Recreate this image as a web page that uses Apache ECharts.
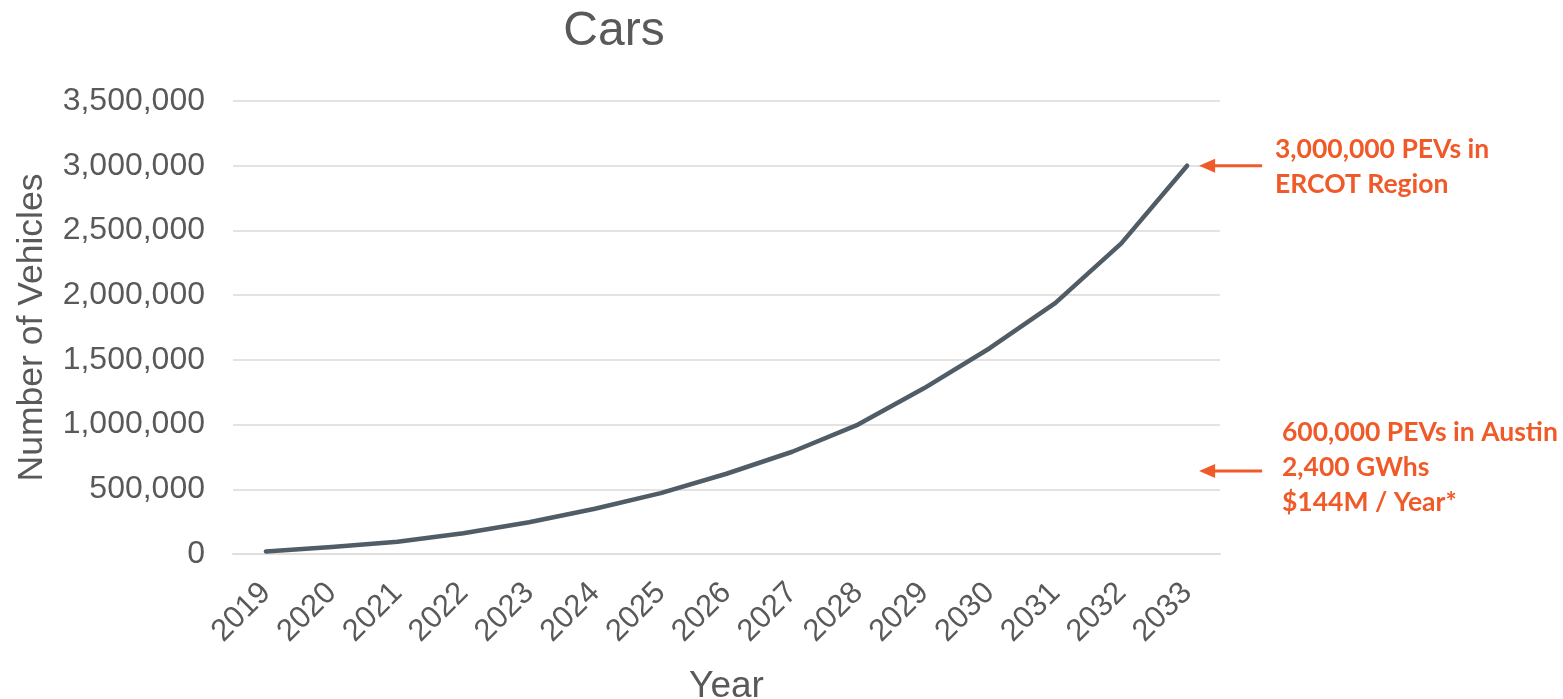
<!DOCTYPE html>
<html>
<head>
<meta charset="utf-8">
<script src="https://cdn.jsdelivr.net/npm/echarts@6/dist/echarts.min.js"></script>
<style>
  html, body { margin: 0; padding: 0; background: #fff; }
  #chart { width: 1563px; height: 699px; }
</style>
</head>
<body>
<div id="chart"></div>
<script>
// Projected number of plug-in electric vehicles (cars) per year
const years = ['2019', '2020', '2021', '2022', '2023', '2024', '2025', '2026',
               '2027', '2028', '2029', '2030', '2031', '2032', '2033'];
const vehicles = [20000, 55000, 95000, 160000, 245000, 350000, 470000, 620000,
                  790000, 1000000, 1280000, 1590000, 1940000, 2400000, 3000000];
const yTicks = [0, 500000, 1000000, 1500000, 2000000, 2500000, 3000000, 3500000];

const ercotNote = ['3,000,000 PEVs in', 'ERCOT Region'];
const austinNote = ['600,000 PEVs in Austin', '2,400 GWhs', '$144M / Year*'];

const grey = '#595959';
const orange = '#F05A28';

const chart = echarts.init(document.getElementById('chart'));

chart.setOption({
  animation: false,
  title: {
    text: 'Cars',
    left: 609,
    textAlign: 'center',
    top: 3,
    textStyle: { fontFamily: 'Liberation Sans', fontSize: 48, fontWeight: 'normal', color: grey }
  },
  grid: { left: 233, right: 343, top: 101, bottom: 145, containLabel: false, outerBoundsMode: 'none' },
  xAxis: {
    type: 'category',
    data: years,
    boundaryGap: true,
    name: 'Year',
    nameLocation: 'middle',
    nameGap: 114,
    nameTextStyle: { fontFamily: 'Liberation Sans', fontSize: 37, color: grey },
    axisLine: { show: true, lineStyle: { color: '#dedede', width: 2 } },
    axisTick: { show: false },
    axisLabel: {
      rotate: 45,
      margin: 34,
      interval: 0,
      fontFamily: 'Liberation Sans',
      fontSize: 31,
      color: grey
    }
  },
  yAxis: {
    type: 'value',
    min: yTicks[0],
    max: yTicks[yTicks.length - 1],
    interval: yTicks[1] - yTicks[0],
    name: 'Number of Vehicles',
    nameLocation: 'middle',
    nameGap: 183,
    nameTextStyle: { fontFamily: 'Liberation Sans', fontSize: 35.5, color: grey },
    axisLine: { show: false },
    axisTick: { show: false },
    splitLine: { lineStyle: { color: '#e3e3e3', width: 2 } },
    axisLabel: {
      margin: 28,
      fontFamily: 'Liberation Sans',
      fontSize: 32,
      color: grey,
      formatter: v => v.toLocaleString('en-US')
    }
  },
  series: [{
    type: 'line',
    data: vehicles,
    symbol: 'none',
    lineStyle: { color: '#505c66', width: 4.5, cap: 'round', join: 'round' },
    z: 3
  }]
});

// Arrow + text annotations on the right of the plot
function arrow(x1, x2, y) {
  return [
    { type: 'line', shape: { x1: x1, y1: y, x2: x2 + 14, y2: y },
      style: { stroke: orange, lineWidth: 3 } },
    { type: 'polygon', shape: { points: [[x2, y], [x2 + 16, y - 7], [x2 + 16, y + 7]] },
      style: { fill: orange } }
  ];
}

const last = chart.convertToPixel({ xAxisIndex: 0, yAxisIndex: 0 },
  [years[years.length - 1], vehicles[vehicles.length - 1]]);
const tipX = last[0] + 12;

const noteFont = { fontFamily: 'Lato', fontWeight: 'bold', fontSize: 26.5, fill: orange, lineHeight: 35 };

chart.setOption({
  graphic: [
    ...arrow(tipX + 63, tipX, last[1]),
    ...arrow(tipX + 63, tipX, 471),
    { type: 'text', left: 1275, top: 132,
      style: Object.assign({ text: ercotNote.join('\n') }, noteFont) },
    { type: 'text', left: 1282, top: 415,
      style: Object.assign({ text: austinNote.join('\n') }, noteFont) }
  ]
});
</script>
</body>
</html>
